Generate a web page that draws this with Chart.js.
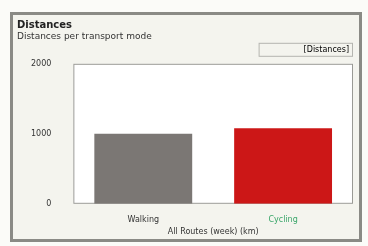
<!DOCTYPE html>
<html>
<head>
<meta charset="utf-8">
<script src="https://cdn.jsdelivr.net/npm/chart.js@4"></script>
<style>
  html, body { margin: 0; padding: 0; background: #fbfbf8; }
  #wrap { position: absolute; left: 10px; top: 12px; width: 346px; height: 224px;
          border: 3px solid #8a8a85; background: #f4f4ee; }
  canvas { display: block; }
</style>
</head>
<body>
<div id="wrap"><canvas id="distChart" width="346" height="224"></canvas></div>
<script>
const modes = ['Walking', 'Cycling'];
const distances = [1000, 1080];
const barColors = ['#7b7774', '#cc1717'];
const tickColors = ['#333333', '#3aa66a'];
const yTicks = [0, 1000, 2000];

const plotBox = {
  id: 'plotBox',
  beforeDraw(chart) {
    const { ctx, chartArea: a } = chart;
    ctx.save();
    ctx.fillStyle = '#ffffff';
    ctx.fillRect(a.left, a.top, a.right - a.left, a.bottom - a.top);
    ctx.strokeStyle = '#9a9a95';
    ctx.lineWidth = 1;
    ctx.strokeRect(a.left + 0.5, a.top + 0.5, a.right - a.left - 1, a.bottom - a.top - 1);
    ctx.restore();
  },
  afterDraw(chart) {
    const l = chart.legend;
    if (!l || !l.legendHitBoxes || !l.legendHitBoxes.length) return;
    const b = l.legendHitBoxes[0];
    const ctx = chart.ctx;
    ctx.save();
    ctx.strokeStyle = '#b5b5b0';
    ctx.strokeRect(b.left - 40.5, b.top - 2.5, b.width + 44, b.height + 5);
    ctx.restore();
  }
};

new Chart(document.getElementById('distChart'), {
  type: 'bar',
  data: {
    labels: modes,
    datasets: [{
      label: 'Distances',
      data: distances,
      backgroundColor: barColors,
      borderWidth: 0,
      categoryPercentage: 0.7,
      barPercentage: 1
    }]
  },
  options: {
    responsive: false,
    animation: false,
    layout: { padding: { left: 4, right: 6, top: 4, bottom: 2 } },
    plugins: {
      title: {
        display: true, text: 'Distances', align: 'start', color: '#222',
        font: { family: 'DejaVu Sans', size: 10, weight: 'bold' }, padding: { top: 0, bottom: 0 }
      },
      subtitle: {
        display: true, text: 'Distances per transport mode', align: 'start', color: '#333',
        font: { family: 'DejaVu Sans', size: 9 }, padding: { top: 0, bottom: 0 }
      },
      legend: {
        position: 'top', align: 'end',
        labels: {
          boxWidth: 0, boxHeight: 0, padding: 4, color: '#444',
          font: { family: 'DejaVu Sans', size: 8 },
          generateLabels: () => [{ text: '[Distances]', fillStyle: 'rgba(0,0,0,0)', strokeStyle: 'rgba(0,0,0,0)', lineWidth: 0 }]
        }
      },
      tooltip: { enabled: false }
    },
    scales: {
      x: {
        grid: { display: false },
        border: { display: false },
        ticks: { color: ctx => tickColors[ctx.index], font: { family: 'DejaVu Sans', size: 8 } },
        title: { display: true, text: 'All Routes (week) (km)', color: '#333',
                 font: { family: 'DejaVu Sans', size: 8 }, padding: { top: 0, bottom: 0 } }
      },
      y: {
        min: 0, max: 2000,
        afterBuildTicks: axis => { axis.ticks = yTicks.map(v => ({ value: v })); },
        grid: { display: false },
        border: { display: false },
        ticks: { color: '#333', padding: 14, callback: v => String(v),
                 font: { family: 'DejaVu Sans', size: 8 } }
      }
    }
  },
  plugins: [plotBox]
});
</script>
</body>
</html>
